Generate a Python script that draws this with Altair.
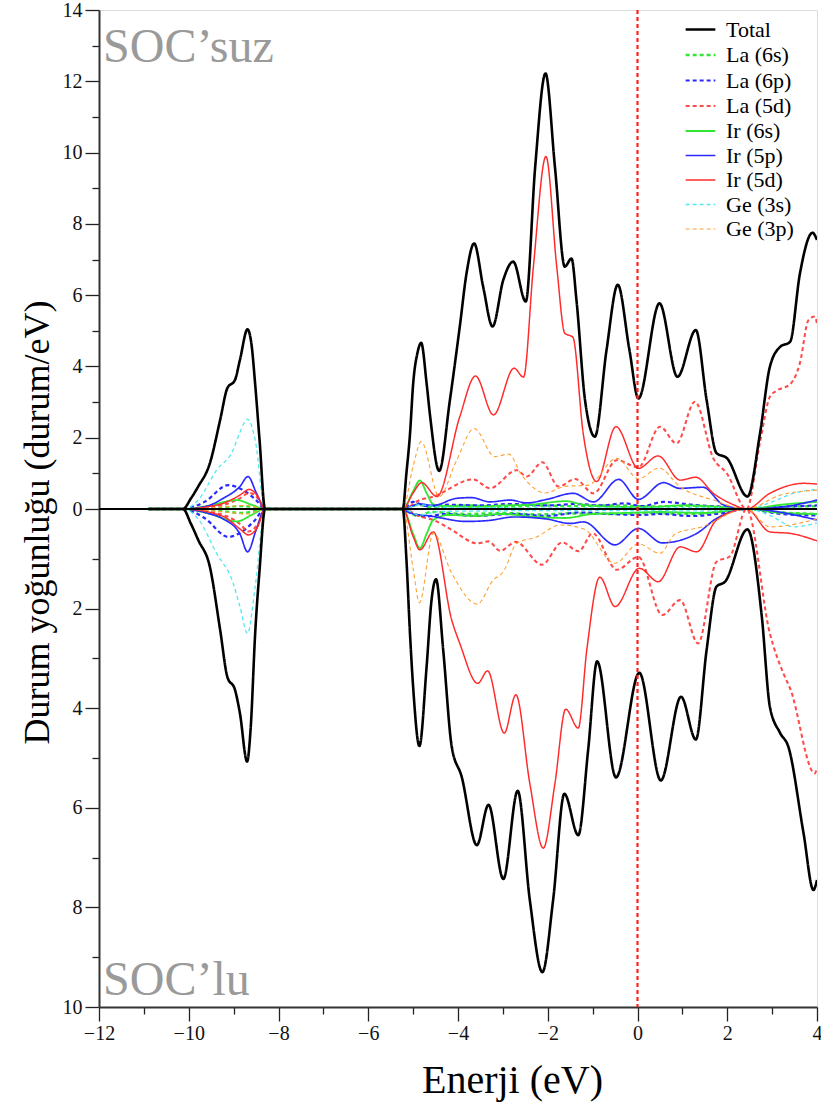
import altair as alt
import pandas as pd

# Energy grid points (eV) and densities (states/eV) for each projected DOS curve.
# "suz" = without spin-orbit coupling (upper half), "lu" = with SOC (lower half).

TOTAL_SUZ = [(-10.9, 0), (-10.13, 0), (-9.95, 0.3), (-9.79, 0.63), (-9.53, 1.28), (-9.30, 2.50),
             (-9.14, 3.39), (-8.97, 3.62), (-8.86, 4.18), (-8.69, 5.04), (-8.60, 4.6), (-8.52, 3.5),
             (-8.42, 1.9), (-8.30, 0), (-5.23, 0), (-5.15, 1.0), (-5.07, 2.1), (-5.0, 3.5), (-4.90, 4.4),
             (-4.82, 4.66), (-4.70, 3.53), (-4.62, 2.59), (-4.42, 1.07), (-4.18, 3.06), (-3.96, 5.12),
             (-3.81, 6.61), (-3.64, 7.45), (-3.44, 6.24), (-3.23, 5.12), (-2.99, 6.43), (-2.77, 6.94),
             (-2.49, 5.82), (-2.28, 9.6), (-2.05, 12.22), (-1.84, 9.6), (-1.62, 6.80), (-1.47, 7.03),
             (-1.36, 5.86), (-1.17, 3.06), (-0.95, 2.03), (-0.69, 4.46), (-0.44, 6.29), (-0.18, 4.46),
             (0.02, 3.10), (0.49, 5.77), (0.89, 3.71), (1.30, 5.02), (1.54, 3.06), (1.76, 1.57),
             (1.99, 1.43), (2.45, 0.35), (2.73, 2.12), (2.95, 3.99), (3.18, 4.55), (3.40, 4.69),
             (3.62, 6.61), (3.90, 7.75), (4.0, 7.55)]
TOTAL_LU = [(-10.9, 0), (-10.13, 0), (-9.95, 0.3), (-9.79, 0.62), (-9.53, 1.16), (-9.30, 2.43),
            (-9.14, 3.37), (-8.97, 3.63), (-8.86, 4.10), (-8.70, 5.07), (-8.62, 4.4), (-8.52, 2.5),
            (-8.42, 1.2), (-8.30, 0), (-5.23, 0), (-5.15, 1.0), (-5.07, 2.5), (-5.0, 3.57), (-4.86, 4.76),
            (-4.70, 3.17), (-4.59, 1.83), (-4.49, 1.41), (-4.33, 2.83), (-4.14, 4.77), (-3.92, 5.37),
            (-3.58, 6.75), (-3.32, 5.94), (-2.99, 7.43), (-2.67, 5.66), (-2.40, 7.85), (-2.12, 9.30),
            (-1.88, 7.85), (-1.63, 5.72), (-1.32, 6.55), (-1.10, 4.84), (-0.90, 3.06), (-0.48, 5.39),
            (0.04, 3.29), (0.52, 5.45), (0.97, 3.77), (1.30, 4.63), (1.54, 2.83), (1.76, 1.56),
            (1.95, 1.46), (2.45, 0.41), (2.77, 2.16), (2.95, 3.97), (3.18, 4.50), (3.36, 4.77),
            (3.70, 6.51), (3.92, 7.65), (4.0, 7.45)]

LA6S_SUZ = [(-10.9, 0), (-10.13, 0), (-9.3, 0.04), (-8.8, 0.08), (-8.3, 0), (-5.23, 0), (-4.9, 0.12),
            (-4.6, 0.05), (-3.8, 0.1), (-3.0, 0.06), (-2.2, 0.1), (-1.5, 0.08), (-0.5, 0.1), (0.3, 0.07),
            (1.2, 0.09), (2.43, 0), (3.2, 0.06), (4.0, 0.08)]
LA6S_LU = [(-10.9, 0), (-10.13, 0), (-9.3, 0.04), (-8.8, 0.08), (-8.3, 0), (-5.23, 0), (-4.9, 0.14),
           (-4.6, 0.06), (-3.8, 0.1), (-3.0, 0.08), (-2.2, 0.11), (-1.5, 0.09), (-0.5, 0.1), (0.3, 0.08),
           (1.2, 0.1), (2.43, 0), (3.2, 0.07), (4.0, 0.1)]

LA6P_SUZ = [(-10.9, 0), (-10.13, 0), (-9.65, 0.2), (-9.12, 0.67), (-8.79, 0.53), (-8.5, 0.25), (-8.3, 0),
            (-5.23, 0), (-5.0, 0.2), (-4.7, 0.08), (-4.2, 0.12), (-3.5, 0.1), (-2.8, 0.14), (-2.0, 0.1),
            (-1.4, 0.14), (-0.8, 0.1), (-0.3, 0.16), (0.1, 0.08), (0.58, 0.2), (1.2, 0.12), (1.9, 0.06),
            (2.43, 0), (3.2, 0.06), (4.0, 0.1)]
LA6P_LU = [(-10.9, 0), (-10.13, 0), (-9.65, 0.18), (-9.12, 0.56), (-8.9, 0.5), (-8.55, 0.25), (-8.3, 0),
           (-5.23, 0), (-5.0, 0.1), (-4.7, 0.15), (-4.3, 0.1), (-3.6, 0.14), (-2.8, 0.1), (-2.0, 0.14),
           (-1.3, 0.07), (-0.6, 0.1), (0.02, 0.12), (0.5, 0.1), (1.2, 0.14), (1.9, 0.08), (2.43, 0),
           (3.2, 0.1), (4.0, 0.13)]

LA5D_SUZ = [(-10.9, 0), (-10.13, 0), (-9.23, 0.12), (-8.86, 0.3), (-8.65, 0.45), (-8.46, 0.3), (-8.3, 0),
            (-5.23, 0), (-4.85, 0.25), (-4.55, 0.35), (-3.66, 0.83), (-3.29, 0.58), (-2.69, 1.09),
            (-2.47, 0.91), (-2.12, 1.31), (-1.76, 0.63), (-1.39, 0.84), (-0.98, 0.44), (-0.46, 1.37),
            (0.02, 1.17), (0.50, 2.31), (0.87, 1.84), (1.28, 3.01), (1.69, 1.42), (1.99, 1.0), (2.43, 0),
            (2.73, 1.87), (2.95, 3.15), (3.10, 3.32), (3.40, 3.5), (3.62, 4.1), (3.81, 5.30),
            (3.95, 5.4), (4.0, 5.2)]
LA5D_LU = [(-10.9, 0), (-10.13, 0), (-9.23, 0.12), (-8.86, 0.3), (-8.67, 0.45), (-8.46, 0.3), (-8.3, 0),
           (-5.23, 0), (-4.85, 0.15), (-4.55, 0.22), (-4.14, 0.42), (-3.57, 0.69), (-3.32, 0.65),
           (-3.06, 0.84), (-2.71, 0.66), (-2.13, 1.12), (-1.68, 0.67), (-1.31, 0.85), (-1.0, 0.49),
           (-0.46, 1.22), (0.02, 0.96), (0.55, 2.13), (0.95, 1.83), (1.35, 2.70), (1.76, 1.06),
           (2.06, 0.95), (2.43, 0), (2.95, 2.5), (3.25, 3.3), (3.40, 3.6), (3.95, 5.31), (4.0, 5.2)]

IR6S_SUZ = [(-10.9, 0), (-10.13, 0), (-9.6, 0.08), (-8.93, 0.25), (-8.6, 0.12), (-8.3, 0), (-5.23, 0),
            (-5.0, 0.5), (-4.85, 0.8), (-4.7, 0.45), (-4.55, 0.13), (-4.2, 0.08), (-3.6, 0.06),
            (-3.0, 0.1), (-2.4, 0.12), (-1.6, 0.22), (-1.2, 0.12), (-0.5, 0.06), (0.2, 0.05), (1.0, 0.1),
            (1.8, 0.06), (2.43, 0), (3.2, 0.12), (4.0, 0.2)]
IR6S_LU = [(-10.9, 0), (-10.13, 0), (-9.6, 0.08), (-8.93, 0.25), (-8.6, 0.12), (-8.3, 0), (-5.23, 0),
           (-5.0, 0.5), (-4.85, 0.79), (-4.7, 0.5), (-4.55, 0.22), (-4.2, 0.12), (-3.6, 0.14),
           (-3.0, 0.1), (-2.4, 0.15), (-1.6, 0.18), (-1.0, 0.1), (-0.3, 0.08), (0.5, 0.06), (1.5, 0.08),
           (2.43, 0), (3.2, 0.08), (4.0, 0.1)]

IR5P_SUZ = [(-10.9, 0), (-10.13, 0), (-9.6, 0.08), (-9.23, 0.30), (-8.86, 0.63), (-8.68, 0.91),
            (-8.49, 0.44), (-8.3, 0), (-5.23, 0), (-4.85, 0.14), (-4.55, 0.1), (-4.03, 0.30), (-3.7, 0.32),
            (-3.29, 0.2), (-2.84, 0.25), (-2.47, 0.17), (-2.02, 0.27), (-1.43, 0.44), (-0.98, 0.2),
            (-0.42, 0.83), (0.02, 0.27), (0.58, 0.74), (0.94, 0.58), (1.46, 0.61), (1.91, 0.12),
            (2.43, 0), (3.18, 0.05), (4.0, 0.25)]
IR5P_LU = [(-10.9, 0), (-10.13, 0), (-9.6, 0.08), (-9.23, 0.2), (-8.86, 0.5), (-8.69, 0.86), (-8.49, 0.4),
           (-8.3, 0), (-5.23, 0), (-5.1, 0.07), (-4.55, 0.15), (-3.82, 0.25), (-3.31, 0.23), (-2.75, 0.16),
           (-2.03, 0.2), (-1.5, 0.29), (-1.2, 0.26), (-0.50, 0.72), (0.02, 0.39), (0.55, 0.68),
           (1.32, 0.49), (1.76, 0.19), (2.43, 0), (4.0, 0.22)]

IR5D_SUZ = [(-10.9, 0), (-10.13, 0), (-9.5, 0.08), (-9.23, 0.16), (-8.86, 0.39), (-8.65, 0.55),
            (-8.46, 0.35), (-8.3, 0), (-5.23, 0), (-5.0, 0.45), (-4.81, 0.74), (-4.47, 0.35),
            (-3.96, 2.59), (-3.61, 3.73), (-3.21, 2.64), (-2.75, 3.95), (-2.54, 3.70), (-2.32, 6.8),
            (-2.04, 9.89), (-1.80, 6.8), (-1.62, 4.93), (-1.44, 4.82), (-1.21, 2.12), (-0.91, 0.77),
            (-0.48, 2.31), (0.02, 1.14), (0.46, 1.49), (0.95, 0.81), (1.30, 0.89), (1.69, 0.44),
            (2.14, 0.12), (2.43, 0), (2.95, 0.44), (3.70, 0.72), (4.0, 0.70)]
IR5D_LU = [(-10.9, 0), (-10.13, 0), (-9.23, 0.15), (-8.86, 0.4), (-8.67, 0.52), (-8.46, 0.35), (-8.3, 0),
           (-5.23, 0), (-5.0, 0.55), (-4.85, 0.82), (-4.55, 0.46), (-4.14, 2.23), (-3.96, 2.70),
           (-3.56, 3.50), (-3.34, 3.25), (-2.97, 4.50), (-2.71, 3.73), (-2.40, 5.51), (-2.10, 6.81),
           (-1.84, 5.51), (-1.60, 4.02), (-1.32, 4.40), (-1.13, 2.83), (-0.84, 1.37), (-0.50, 1.96),
           (0.04, 1.19), (0.46, 1.46), (0.95, 0.76), (1.32, 0.86), (1.76, 0.22), (2.43, 0),
           (2.95, 0.46), (3.40, 0.49), (4.0, 0.64)]

GE3S_SUZ = [(-10.9, 0), (-10.13, 0), (-9.79, 0.25), (-9.38, 1.09), (-9.01, 1.66), (-8.87, 2.12),
            (-8.69, 2.52), (-8.52, 1.94), (-8.3, 0), (-5.23, 0), (-4.85, 0.12), (-4.4, 0.05),
            (-3.5, 0.04), (-2.0, 0.03), (0.0, 0.03), (1.5, 0.04), (2.43, 0), (3.0, 0.2), (3.5, 0.45),
            (4.0, 0.55)]
GE3S_LU = [(-10.9, 0), (-10.13, 0), (-9.79, 0.2), (-9.38, 0.89), (-9.01, 1.49), (-8.86, 1.96),
           (-8.69, 2.50), (-8.52, 1.56), (-8.3, 0), (-5.23, 0), (-4.85, 0.12), (-4.4, 0.05), (-3.5, 0.04),
           (-2.0, 0.03), (0.0, 0.03), (1.5, 0.04), (2.43, 0), (3.0, 0.15), (3.48, 0.36), (4.0, 0.28)]

GE3P_SUZ = [(-10.9, 0), (-10.13, 0), (-9.2, 0.06), (-8.7, 0.1), (-8.3, 0), (-5.23, 0), (-5.0, 1.2),
            (-4.82, 1.89), (-4.42, 0.35), (-4.03, 1.37), (-3.64, 2.26), (-3.18, 1.47), (-2.87, 1.54),
            (-2.58, 0.95), (-2.05, 0.45), (-1.63, 0.63), (-1.1, 0.67), (-0.46, 1.42), (0.02, 0.85),
            (0.48, 1.15), (0.94, 0.63), (1.69, 0.25), (2.43, 0), (3.18, 0.39), (4.0, 0.53)]
GE3P_LU = [(-10.9, 0), (-10.13, 0), (-9.2, 0.06), (-8.7, 0.1), (-8.3, 0), (-5.23, 0), (-5.0, 1.2),
           (-4.86, 1.88), (-4.55, 0.49), (-4.14, 1.29), (-3.57, 1.91), (-3.22, 1.43), (-2.99, 1.26),
           (-2.69, 0.69), (-2.25, 0.56), (-1.72, 0.32), (-1.2, 0.4), (-0.5, 1.09), (0.02, 0.7),
           (0.50, 0.89), (0.84, 0.5), (1.43, 0.36), (2.43, 0), (2.95, 0.36), (4.0, 0.2)]

SERIES = ["Total", "La (6s)", "La (6p)", "La (5d)", "Ir (6s)", "Ir (5p)", "Ir (5d)", "Ge (3s)", "Ge (3p)"]
COLORS = ["#000000", "#33e633", "#2a2aff", "#ff4a4a", "#33e633", "#2a2aff", "#ff2a2a", "#55e8f0", "#ffa033"]
DASHES = [[1, 0], [4, 3], [4, 3], [4, 3], [1, 0], [1, 0], [1, 0], [4, 3], [4, 3]]
WIDTHS = [2.6, 1.1, 1.1, 1.1, 1.1, 1.3, 1.1, 1.1, 1.1]

CURVES = {
    "Total": (TOTAL_SUZ, TOTAL_LU),
    "La (6s)": (LA6S_SUZ, LA6S_LU),
    "La (6p)": (LA6P_SUZ, LA6P_LU),
    "La (5d)": (LA5D_SUZ, LA5D_LU),
    "Ir (6s)": (IR6S_SUZ, IR6S_LU),
    "Ir (5p)": (IR5P_SUZ, IR5P_LU),
    "Ir (5d)": (IR5D_SUZ, IR5D_LU),
    "Ge (3s)": (GE3S_SUZ, GE3S_LU),
    "Ge (3p)": (GE3P_SUZ, GE3P_LU),
}

LABELS = ["SOC\u2019suz", "SOC\u2019lu"]
LABEL_X = [-11.91, -11.91]
LABEL_Y = [12.54, -9.76]

rows = []
for name, (up, down) in CURVES.items():
    for e, v in up:
        rows.append({"E": e, "dos": v, "series": name, "panel": "suz"})
    for e, v in down:
        rows.append({"E": e, "dos": -v, "series": name, "panel": "lu"})
df = pd.DataFrame(rows)

FONT = "Liberation Serif"
W, H = 718, 997

x_scale = alt.Scale(domain=[-12, 4], nice=False, zero=False)
# piecewise scale: 0..14 fills the upper half, 0..10 (mirrored) fills the lower half
y_scale = alt.Scale(domain=[-10, 0, 14], range=[H, 499, 0], nice=False, zero=False)

major_minor = {"condition": {"test": "datum.value % 2 === 0", "value": 14}, "value": 7}

x_axis = alt.Axis(
    values=list(range(-12, 5)),
    labelExpr="datum.value % 2 === 0 ? datum.label : ''",
    tickSize=major_minor, tickColor="#222", tickWidth=1.3,
    domainColor="#333", domainWidth=2,
    labelFont=FONT, labelFontSize=20, labelPadding=2, labelColor="#111", labelFlush=False,
    grid=False, title="Enerji (eV)", titleFont=FONT, titleFontSize=40, titleFontWeight="normal",
    titleColor="#000", titleX=413, titleY=85, titleBaseline="alphabetic", titleAlign="center",
)
y_axis = alt.Axis(
    values=list(range(-10, 15)),
    labelExpr="datum.value % 2 === 0 ? format(abs(datum.value), 'd') : ''",
    tickSize=major_minor, tickColor="#222", tickWidth=1.3,
    domainColor="#333", domainWidth=2,
    labelFont=FONT, labelFontSize=20, labelPadding=3, labelColor="#111", labelFlush=False,
    grid=False, title="Durum yoğunluğu (durum/eV)", titleFont=FONT, titleFontSize=36,
    titleFontWeight="normal", titleColor="#000", titleAngle=270, titleX=-51, titleY=512,
    titleBaseline="alphabetic", titleAlign="center",
)

# horizontal line glyph, a bit wider than the row height
legend = alt.Legend(
    title=None, orient="none", legendX=589, legendY=7, symbolType="M-1.35,0H1.35", symbolSize=484,
    labelFont=FONT, labelFontSize=22, labelColor="#000", rowPadding=1.5, labelOffset=13,
    symbolOpacity=1, symbolFillColor="transparent", padding=0,
)

enc = dict(
    x=alt.X("E:Q", scale=x_scale, axis=x_axis),
    y=alt.Y("dos:Q", scale=y_scale, axis=y_axis),
    color=alt.Color("series:N", scale=alt.Scale(domain=SERIES, range=COLORS), legend=legend),
    strokeDash=alt.StrokeDash("series:N", scale=alt.Scale(domain=SERIES, range=DASHES), legend=legend),
    strokeWidth=alt.StrokeWidth("series:N", scale=alt.Scale(domain=SERIES, range=WIDTHS), legend=legend),
    detail="panel:N",
)

base = alt.Chart(df)
partials = base.transform_filter(alt.datum.series != "Total").mark_line(
    interpolate="monotone", clip=True).encode(**enc)
total = base.transform_filter(alt.datum.series == "Total").mark_line(
    interpolate="monotone", clip=True).encode(**enc)

zero_line = alt.Chart(pd.DataFrame({"v": [0]})).mark_rule(color="#000", strokeWidth=2).encode(
    y=alt.Y("v:Q", scale=y_scale))
fermi = alt.Chart(pd.DataFrame({"v": [0]})).mark_rule(
    color="#ff2020", strokeWidth=2.2, strokeDash=[4, 3]).encode(x=alt.X("v:Q", scale=x_scale))

labels = alt.Chart(pd.DataFrame({"x": LABEL_X, "y": LABEL_Y, "t": LABELS})).mark_text(
    align="left", baseline="alphabetic", font=FONT, fontSize=48, color="#9a9a9a"
).encode(x=alt.X("x:Q", scale=x_scale), y=alt.Y("y:Q", scale=y_scale), text="t:N")

chart = alt.layer(partials, zero_line, total, fermi, labels).properties(
    width=W, height=H,
    autosize=alt.AutoSizeParams(type="none"),
    padding={"left": 99, "top": 10, "right": 4, "bottom": 97},
).configure_view(stroke="#888", strokeWidth=1.5).configure(font=FONT, background="white")

chart.save("out.html", embed_options={"renderer": "svg", "actions": False})
